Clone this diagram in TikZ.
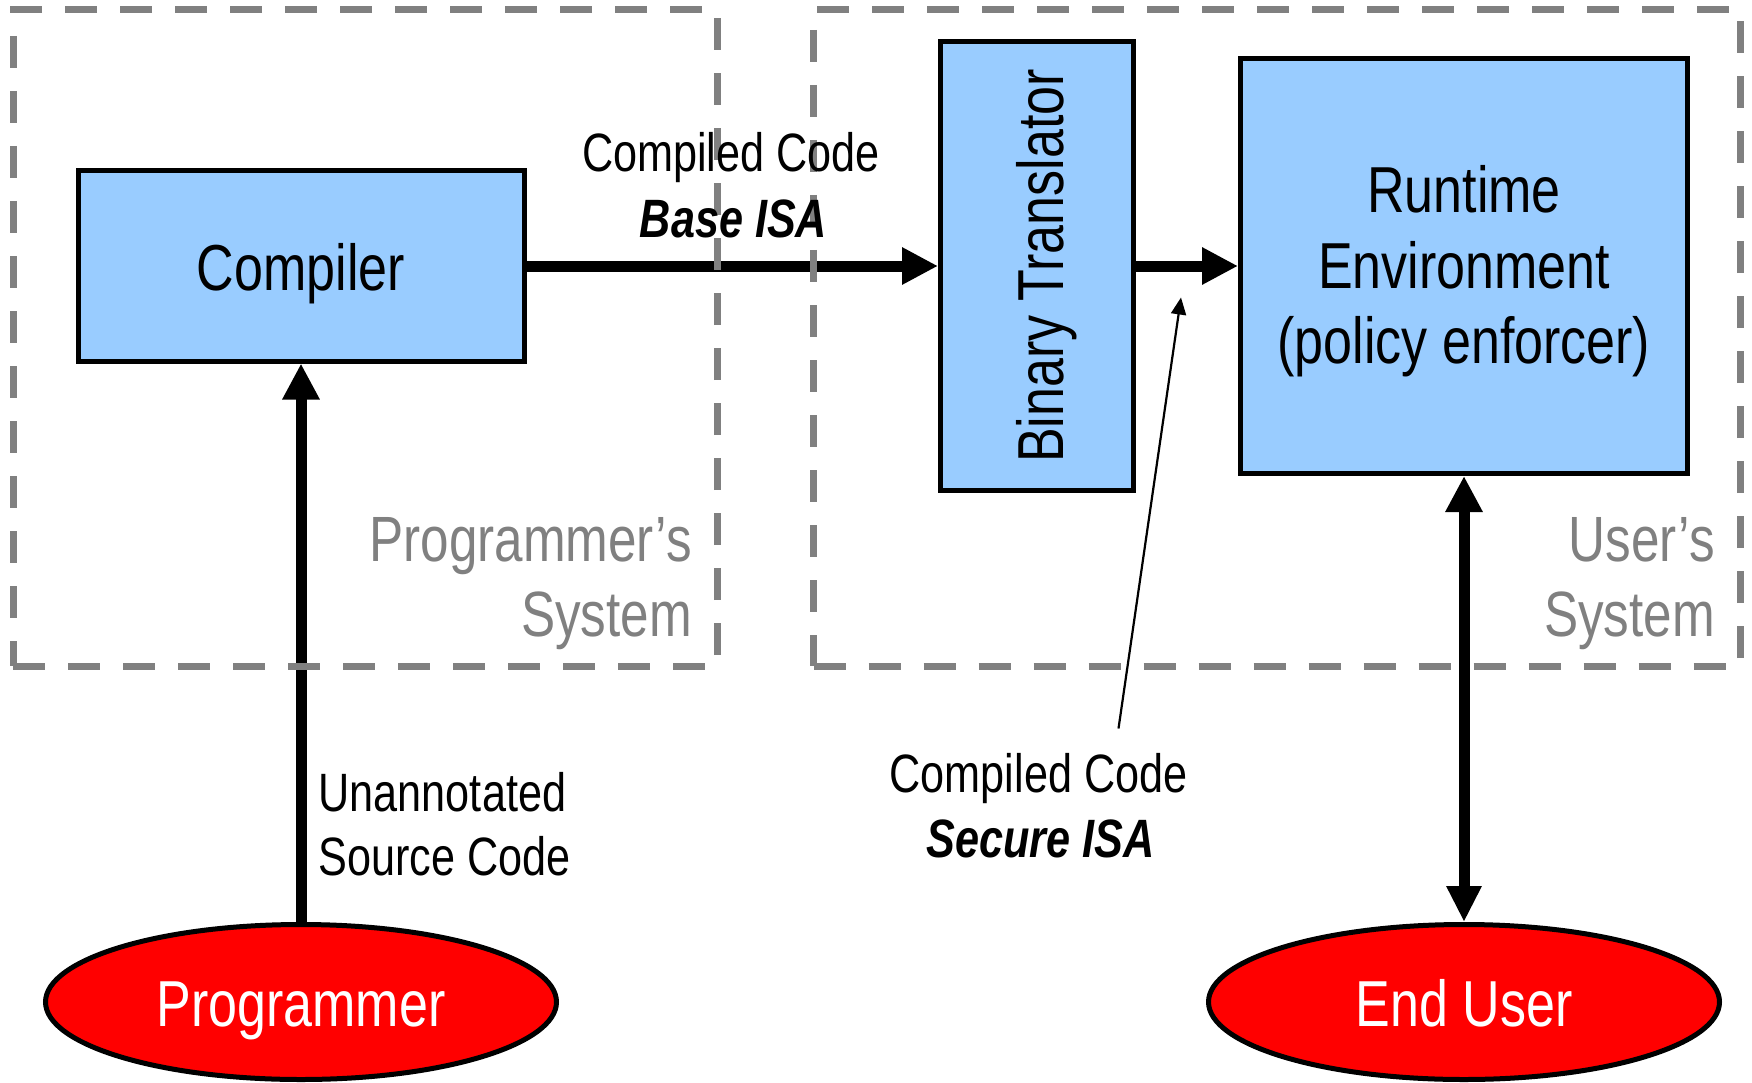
\documentclass[tikz,border=0pt]{standalone}
\usepackage{fontspec}
\setmainfont{Liberation Sans}[FakeStretch=0.8]
\usetikzlibrary{arrows.meta,shapes.geometric}

\definecolor{boxblue}{HTML}{99CCFF}
\definecolor{sysgray}{HTML}{808080}
\definecolor{actorred}{HTML}{FF0000}

\begin{document}
\begin{tikzpicture}[x=1pt,y=-1pt,
  sysframe/.style={draw=sysgray, line width=7pt, dash pattern=on 32pt off 23pt,
    inner sep=0pt, outer sep=0pt},
  block/.style={draw=black, line width=5pt, fill=boxblue, inner sep=0pt},
  actor/.style={ellipse, draw=black, line width=5pt, fill=actorred, inner sep=0pt,
    minimum width=511pt, minimum height=155pt, text=white,
    font=\fontsize{65}{75}\selectfont, text height=48pt, text depth=0pt},
  bigtxt/.style={font=\fontsize{65}{75}\selectfont, inner sep=0pt, anchor=base},
  smalltxt/.style={font=\fontsize{54}{65}\selectfont, inner sep=0pt, anchor=base},
  isatxt/.style={smalltxt, font=\fontsize{54}{65}\selectfont\bfseries\itshape},
  systxt/.style={font=\fontsize{64}{75}\selectfont, text=sysgray, inner sep=0pt,
    anchor=base east},
  flow/.style={line width=11pt, -{Triangle[length=36pt,width=35pt]}},
  twoway/.style={line width=11pt,
    {Triangle[length=36pt,width=35pt]}-{Triangle[length=36pt,width=33pt]}},
  pointer/.style={line width=2.2pt, -{Triangle[length=17pt,width=15pt]}}
]
\useasboundingbox (0,0) rectangle (1752,1083);

% processing blocks
\node[block, minimum width=446pt, minimum height=190pt,
      font=\fontsize{65}{75}\selectfont, text height=49pt, text depth=0pt]
  (comp) at (301,266) {Compiler};
\node[block, minimum width=193pt, minimum height=449pt] (bt) at (1037,266) {};
\node[bigtxt, rotate=90] (bttext) at (1063,266) {Binary Translator};
\node[block, minimum width=447pt, minimum height=415pt] (rt) at (1464,266) {};
\node[bigtxt] (rt1) at (1464,213) {Runtime};
\node[bigtxt] (rt2) at (1464,288) {Environment};
\node[bigtxt] (rt3) at (1464,363) {(policy enforcer)};

% people
\node[actor] (prog) at (301,1002) {Programmer};
\node[actor] (user) at (1464,1002) {End User};

% data flow
\draw[flow] (comp.east) -- (bt.west);
\draw[flow] (bt.east) -- (rt.west);
\draw[flow] (prog.north) -- (comp.south);
\draw[twoway] (rt.south) -- (user.north);

% callout for the translated code
\coordinate (calltail) at (1118.5,728.5);
\coordinate (calltip) at (1181,297.5);
\draw[pointer] (calltail) -- (calltip);

% system boundaries
\node[sysframe, minimum width=704pt, minimum height=656pt] (progsys) at (365,338) {};
\node[sysframe, minimum width=927pt, minimum height=656pt] (usersys) at (1277,338) {};

% boundary captions
\node[systxt] (progsys1) at (692,561) {Programmer’s};
\node[systxt] (progsys2) at (692,636) {System};
\node[systxt] (usersys1) at (1715,561) {User’s};
\node[systxt] (usersys2) at (1715,636) {System};

% connector labels
\node[smalltxt] (base1) at (731,172) {Compiled Code};
\node[isatxt] (base2) at (733.5,238) {Base ISA};
\node[smalltxt] (sec1) at (1038.5,792) {Compiled Code};
\node[isatxt] (sec2) at (1040.5,857) {Secure ISA};
\node[smalltxt, anchor=base west] (src1) at (318.5,811) {Unannotated};
\node[smalltxt, anchor=base west] (src2) at (318.5,875) {Source Code};
\end{tikzpicture}
\end{document}
